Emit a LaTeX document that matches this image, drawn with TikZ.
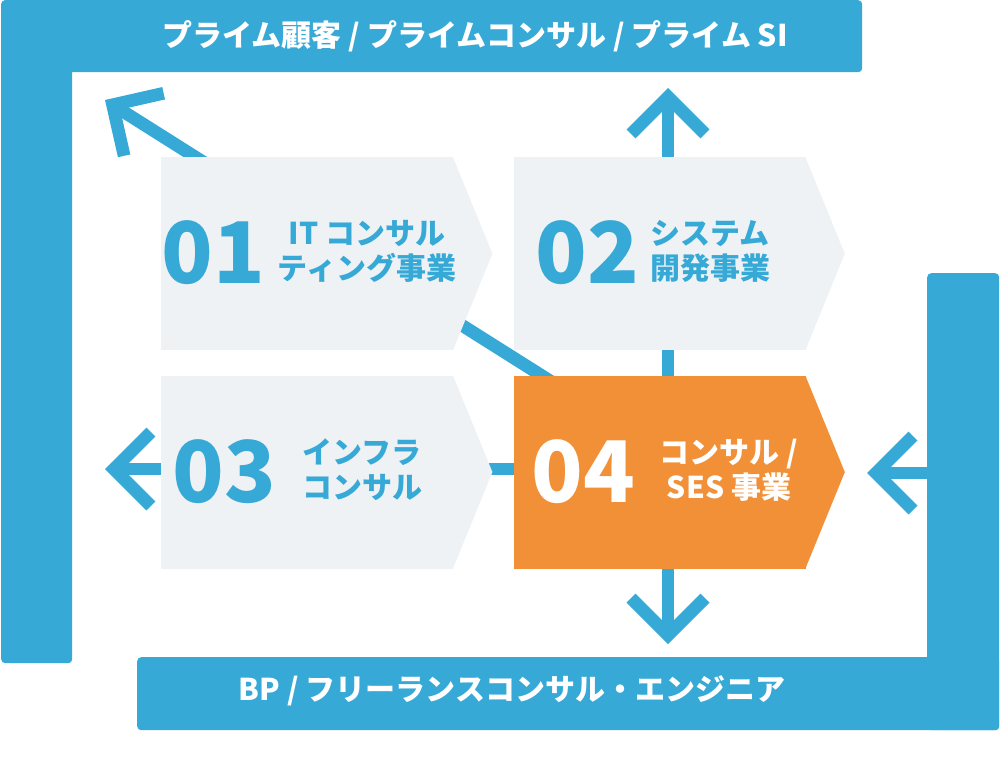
\documentclass[tikz,border=0pt]{standalone}
\usepackage{fontspec}
\setmainfont{Noto Sans CJK JP}
\usetikzlibrary{positioning}
\usetikzlibrary{arrows.meta}
\usetikzlibrary{backgrounds}
\definecolor{primeblue}{HTML}{36A9D6}
\definecolor{cardgray}{HTML}{EEF2F5}
\definecolor{sesorange}{HTML}{F19036}

\begin{document}
\begin{tikzpicture}[x=1pt, y=-1pt,
            bar/.style = {fill=primeblue, rounded corners=4pt, inner sep=0pt, anchor=north west},
            bartext/.style = {text=white, inner sep=0pt, font=\fontsize{30}{36}\selectfont\bfseries},
            card/.style = {fill=#1, minimum width=292pt, minimum height=193pt, inner sep=0pt},
            card/.default = cardgray,
            cardnum/.style = {inner sep=0pt, font=\fontsize{85}{85}\selectfont\bfseries},
            cardtext/.style = {inner sep=0pt, align=center, font=\fontsize{30}{35}\selectfont\bfseries},
            flow/.style = {draw=primeblue, line width=12.7pt,
                -{Straight Barb[length=37pt, width=74pt]}}]
            \useasboundingbox (0,0) rectangle (1000,763);
            % outer frames
            \node[bar, minimum width=861pt, minimum height=72pt] (primebar) at (1,0) {};
            \node[bar, minimum width=71pt, minimum height=663pt] (primeleg) at (1,0) {};
            \node[bartext] (primelabel) at (475,36) {プライム顧客 / プライムコンサル / プライム SI};
            \node[bar, minimum width=862pt, minimum height=73pt] (bpbar) at (137,657) {};
            \node[bar, minimum width=72pt, minimum height=457pt] (bpleg) at (927,273) {};
            \node[bartext] (bplabel) at (512,691) {BP / フリーランスコンサル・エンジニア};
            % business cards
            \node[card, anchor=north west] (b1) at (161,157) {};
            \node[card, right=60pt of b1] (b2) {};
            \node[card, below=25pt of b1] (b3) {};
            \node[card=sesorange, below=25pt of b2] (b4) {};
            \foreach \b/\c in {b1/cardgray, b2/cardgray, b3/cardgray, b4/sesorange}
                \fill[\c] ([xshift=-0.5pt]\b.north east) -- ([xshift=39pt]\b.east)
                    -- ([xshift=-0.5pt]\b.south east) -- cycle;
            \node[cardnum, text=primeblue] (n1) at (213,253) {01};
            \node[cardtext, text=primeblue] (t1) at (367,251) {IT コンサル\\ティング事業};
            \node[cardnum, text=primeblue] (n2) at (587,253) {02};
            \node[cardtext, text=primeblue] (t2) at (710,251) {システム\\開発事業};
            \node[cardnum, text=primeblue] (n3) at (224.5,472) {03};
            \node[cardtext, text=primeblue] (t3) at (362,470) {インフラ\\コンサル};
            \node[cardnum, text=white] (n4) at (583,472) {04};
            \node[cardtext, text=white] (t4) at (729,470) {コンサル /\\SES 事業};
            % flows
            \coordinate (upTip) at (668,88);
            \coordinate (downTip) at (668,644);
            \coordinate (leftTip) at (105,469);
            \coordinate (rightTip) at (867,473);
            \coordinate (cornerTip) at (105,100);
            \begin{scope}[on background layer]
                \draw[flow] (b4.center -| upTip) -- (upTip);
                \draw[flow] (b4.center -| downTip) -- (downTip);
                \draw[flow] (b4.center |- leftTip) -- (leftTip);
                \draw[flow] ([xshift=35pt]b4.center) -- (cornerTip);
                \draw[flow] (bpleg.west |- rightTip) -- (rightTip);
            \end{scope}
        \end{tikzpicture}
\end{document}
